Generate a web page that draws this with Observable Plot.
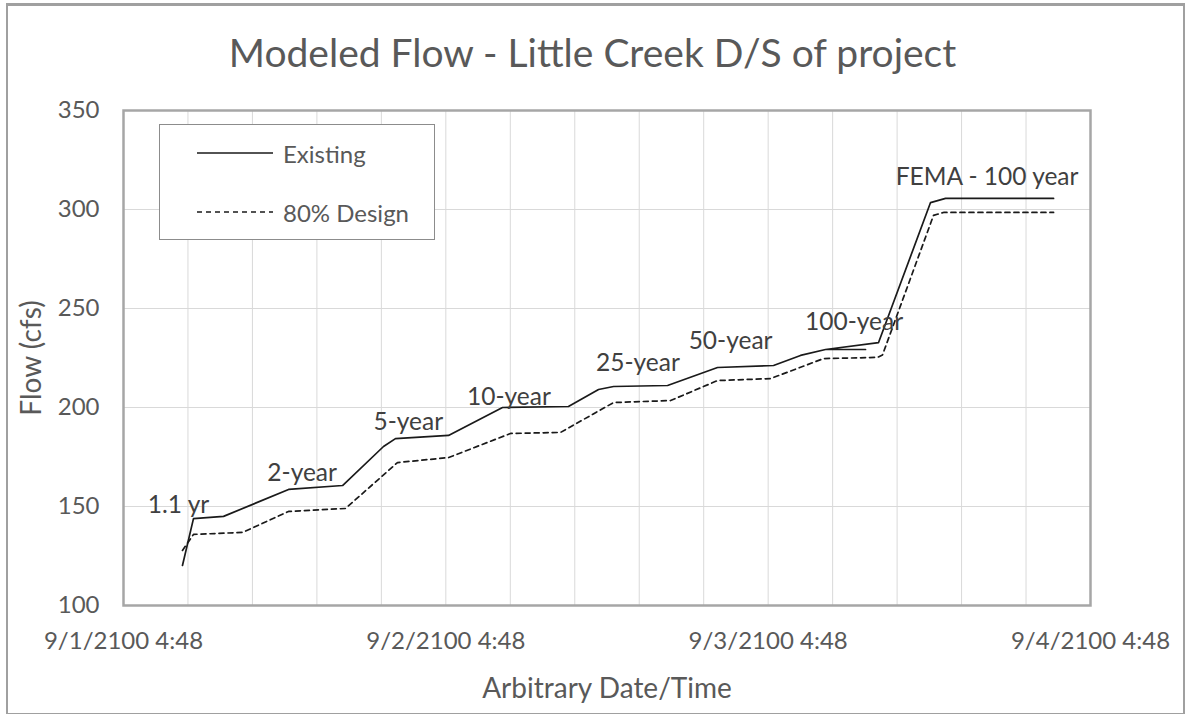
<!DOCTYPE html>
<html>
<head>
<meta charset="utf-8">
<script src="https://cdn.jsdelivr.net/npm/d3@7"></script>
<script src="https://cdn.jsdelivr.net/npm/@observablehq/plot@0.6"></script>
<style>
  html, body { margin: 0; padding: 0; background: #fff; }
  #wrap { position: relative; width: 1185px; height: 714px; overflow: hidden; font-family: Lato, "Open Sans", sans-serif; }
  #border { position: absolute; left: 6px; top: 3px; width: 1175px; height: 707px; border: 2px solid #a0a0a0; border-top-width: 3px; box-sizing: content-box; }
  #title { position: absolute; left: 0; width: 1185px; top: 29px; text-align: center; font-size: 39px; color: #595959; }
  #chart { position: absolute; left: 0; top: 0; }
  #legend { position: absolute; left: 159px; top: 124px; width: 274px; height: 114px; border: 1.5px solid #8c8c8c; background: #fff; }
  .lg { position: absolute; left: 0; height: 30px; display: flex; align-items: center; font-size: 24px; color: #595959; }
  .lg svg { margin-left: 37px; margin-right: 10px; }
</style>
</head>
<body>
<div id="wrap">
  <div id="border"></div>
  <div id="chart"></div>
  <div id="title">Modeled Flow - Little Creek D/S of project</div>
  <div id="legend"></div>
</div>
<script>
// ---- data ----
const seriesNames = ["Existing", "80% Design"];
// hours after 9/1/2100 4:48
const existingHours = [4.39, 5.21, 7.45, 12.29, 16.31, 19.36, 20.25, 24.20, 28.22, 33.13, 35.37, 36.49, 40.51, 44.23, 48.40, 50.41, 52.27, 55.25, 52.27, 56.22, 60.09, 61.21, 69.25];
const existingFlow  = [120.2, 143.9, 145.0, 158.6, 160.6, 180.3, 184.3, 185.9, 200.0, 200.5, 209.1, 210.6, 211.1, 220.2, 221.2, 226.3, 229.3, 229.3, 229.3, 232.8, 303.5, 305.6, 305.6];
const designHours = [4.39, 5.21, 8.86, 12.29, 16.53, 20.40, 24.20, 28.82, 32.54, 36.49, 40.73, 44.23, 48.18, 52.12, 56.14, 56.51, 60.31, 61.06, 69.25];
const designFlow  = [127.8, 135.9, 136.9, 147.5, 149.0, 172.2, 174.7, 186.9, 187.4, 202.5, 203.5, 213.6, 214.6, 224.7, 225.3, 226.5, 297.0, 298.5, 298.5];

const eventLabels = ["1.1 yr", "2-year", "5-year", "10-year", "25-year", "50-year", "100-year", "FEMA - 100 year"];
const eventHours  = [4.1, 13.3, 21.2, 28.7, 38.3, 45.2, 54.4, 64.3];
const eventFlow   = [150.5, 167.0, 192.4, 205.0, 222.2, 233.3, 243.0, 316.2];

const gridHours = [0, 4.8, 9.6, 14.4, 19.2, 24, 28.8, 33.6, 38.4, 43.2, 48, 52.8, 57.6, 62.4, 67.2, 72];
const tickHours = [0, 24, 48, 72];
const tickLabels = ["9/1/2100 4:48", "9/2/2100 4:48", "9/3/2100 4:48", "9/4/2100 4:48"];
const yTicks = [100, 150, 200, 250, 300, 350];

// ---- tables ----
const existing = existingHours.map((h, i) => ({h, f: existingFlow[i]}));
const design = designHours.map((h, i) => ({h, f: designFlow[i]}));
const events = eventLabels.map((t, i) => ({t, h: eventHours[i], f: eventFlow[i]}));

const chart = Plot.plot({
  width: 1185,
  height: 714,
  marginLeft: 123,
  marginRight: 95,
  marginTop: 110,
  marginBottom: 109,
  style: {fontFamily: "Lato, 'Open Sans', sans-serif", fontSize: "24px", color: "#595959", background: "transparent"},
  x: {domain: [0, 72]},
  y: {domain: [100, 350]},
  marks: [
    Plot.gridX(gridHours, {stroke: "#d9d9d9", strokeOpacity: 1, strokeWidth: 1}),
    Plot.gridY(yTicks, {stroke: "#d9d9d9", strokeOpacity: 1, strokeWidth: 1}),
    Plot.frame({stroke: "#a6a6a6", strokeWidth: 2.5}),
    Plot.axisY(yTicks, {tickSize: 0, tickPadding: 24, fill: "#595959", label: "Flow (cfs)", labelAnchor: "center", labelArrow: "none", labelOffset: 102}),
    Plot.axisX(tickHours, {tickSize: 0, tickPadding: 26, fill: "#595959", tickFormat: (d, i) => tickLabels[i], label: "Arbitrary Date/Time", labelAnchor: "center", labelArrow: "none", labelOffset: 92}),
    Plot.line(existing, {x: "h", y: "f", stroke: "#1a1a1a", strokeWidth: 1.7, curve: "linear"}),
    Plot.line(design, {x: "h", y: "f", stroke: "#1a1a1a", strokeWidth: 1.7, strokeDasharray: "5,4", curve: "linear"}),
    Plot.text(events, {x: "h", y: "f", text: "t", fontSize: 24.5, fill: "#404040"})
  ]
});
document.getElementById("chart").appendChild(chart);

// axis label font sizes
chart.querySelectorAll("g[aria-label='y-axis label'] text, g[aria-label='x-axis label'] text").forEach(t => t.setAttribute("font-size", "28"));

// ---- legend ----
const legend = document.getElementById("legend");
seriesNames.forEach((name, i) => {
  const row = document.createElement("div");
  row.className = "lg";
  row.style.top = (i === 0 ? 13 : 72) + "px";
  const dash = i === 0 ? "" : ' stroke-dasharray="5,4"';
  row.innerHTML = `<svg width="76" height="4"><line x1="0" y1="2" x2="76" y2="2" stroke="#1a1a1a" stroke-width="1.7"${dash}/></svg><span>${name}</span>`;
  legend.appendChild(row);
});
</script>
</body>
</html>
